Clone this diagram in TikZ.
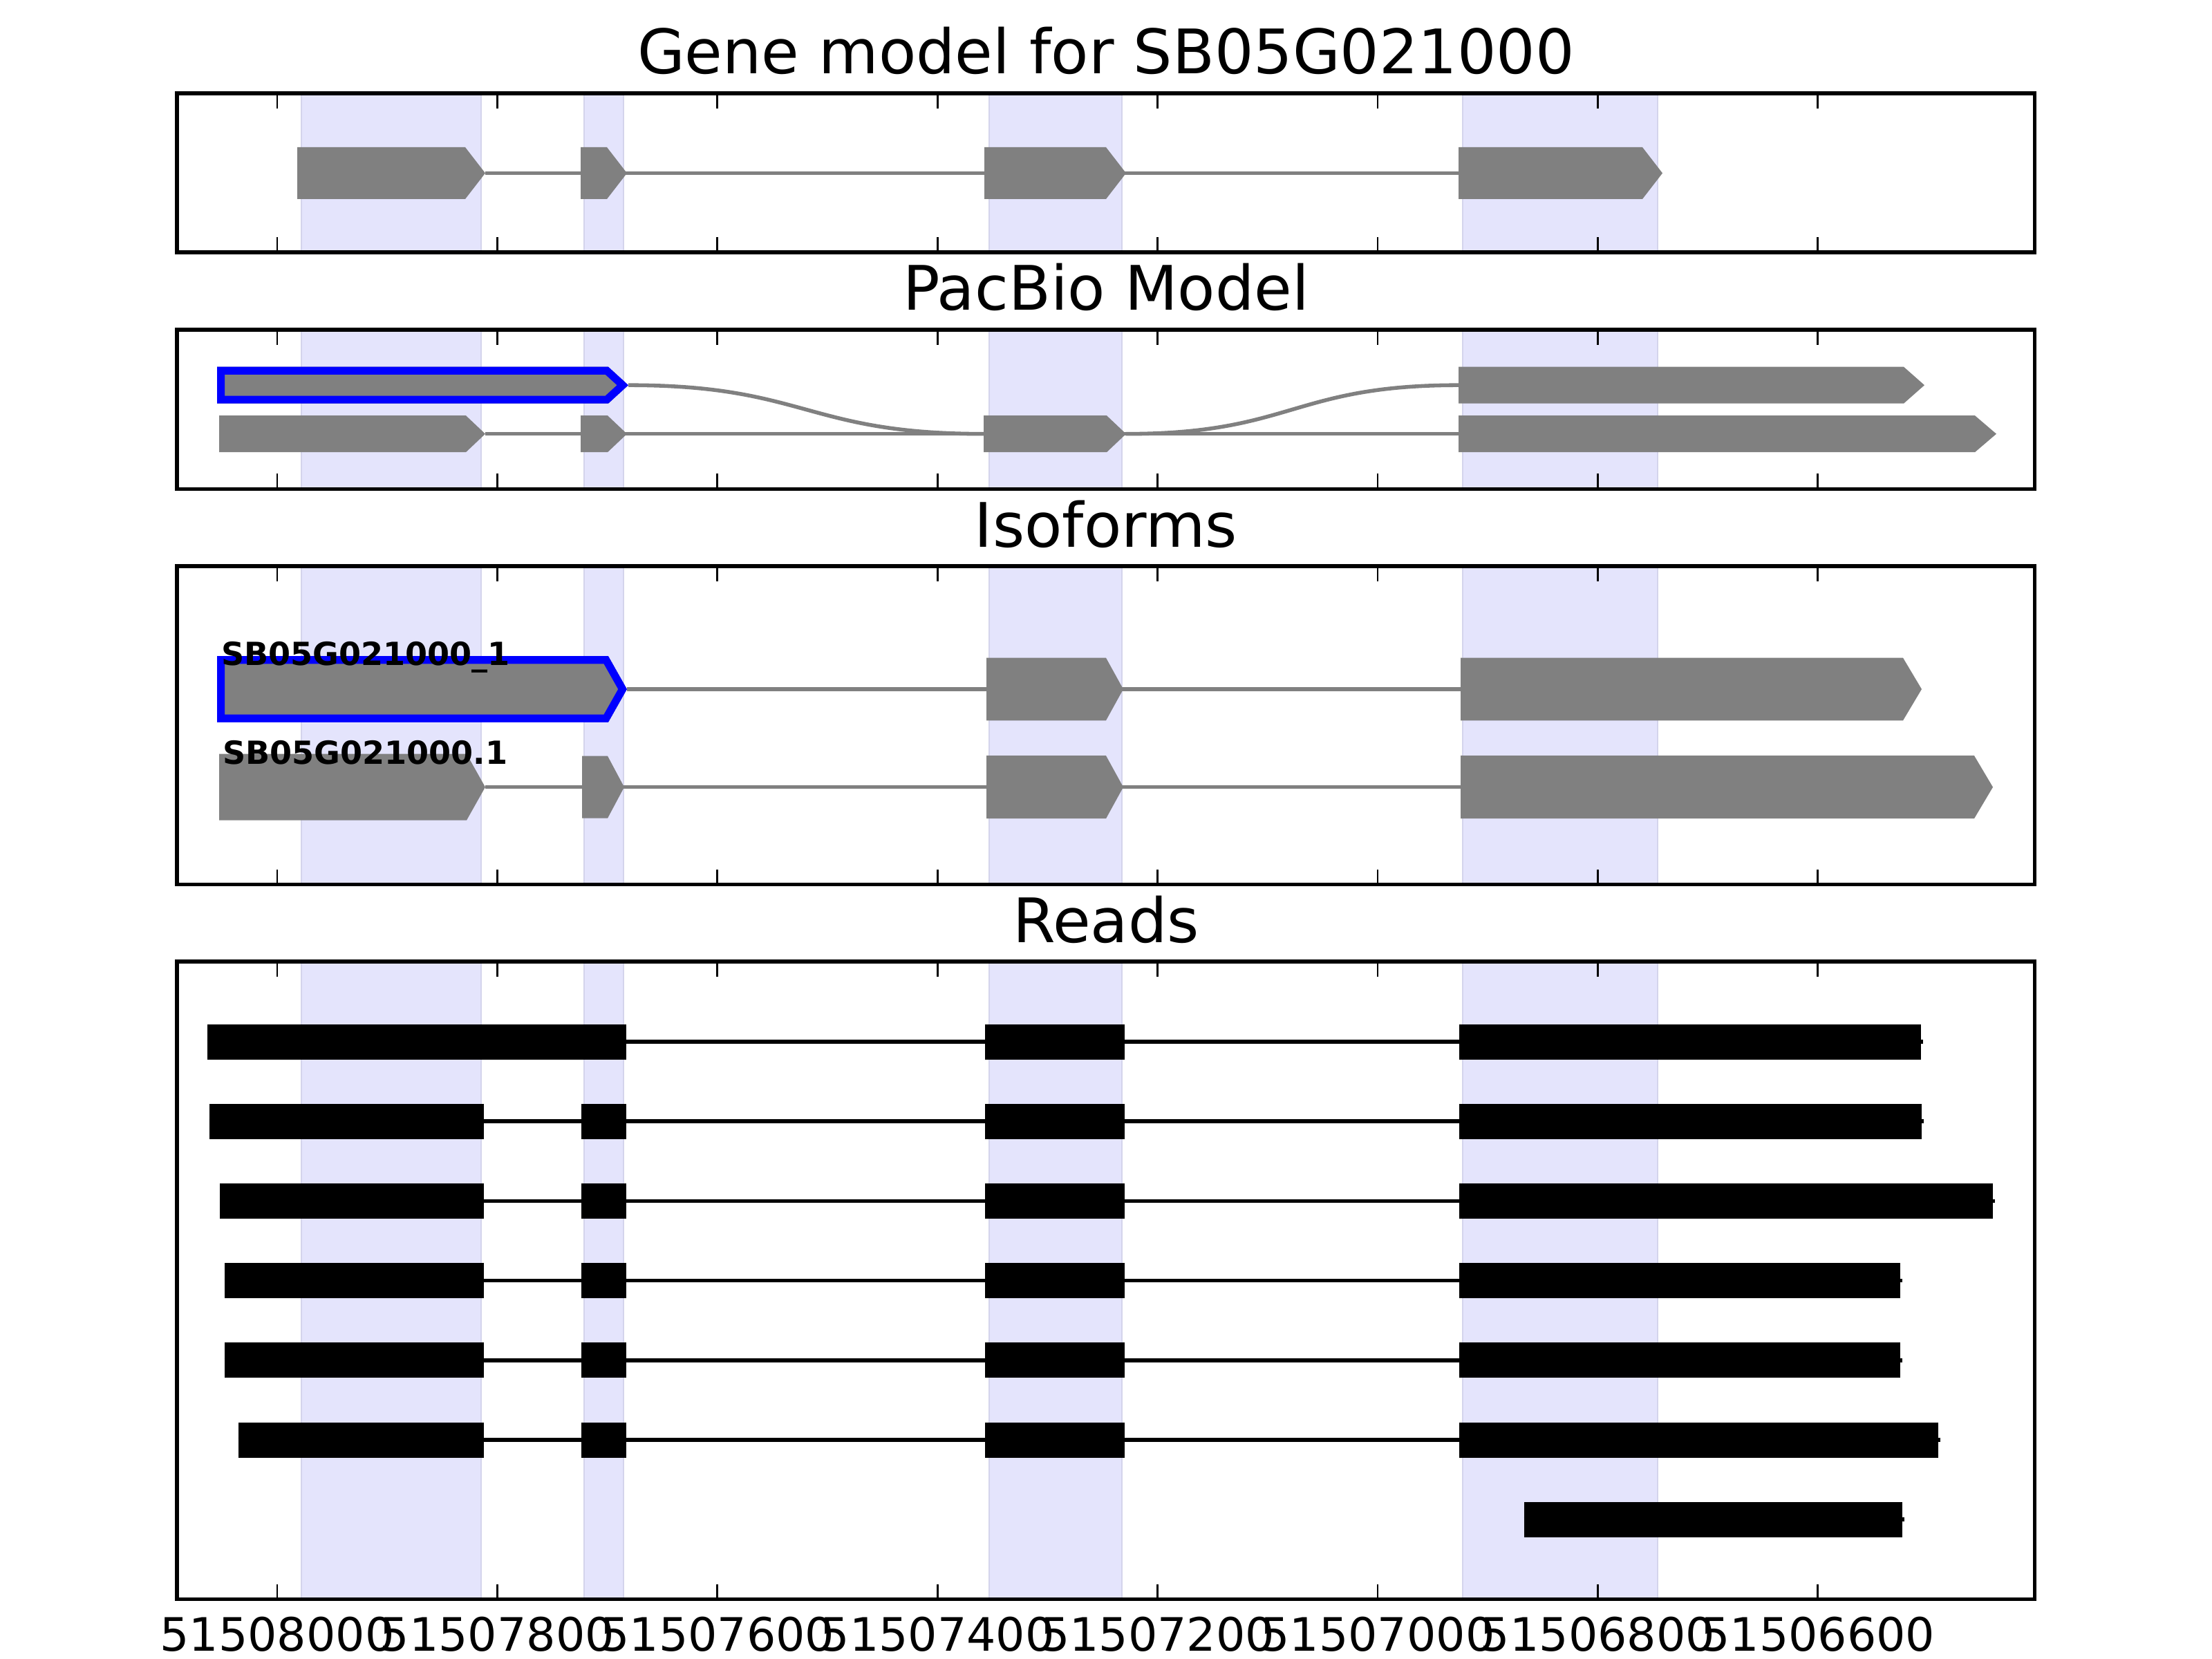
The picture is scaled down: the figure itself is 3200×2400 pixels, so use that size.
\documentclass[tikz,border=0pt]{standalone}
\usepackage{fontspec}
\setmainfont{DejaVu Sans}
\definecolor{bandfill}{RGB}{228,228,252}
\definecolor{bandedge}{RGB}{212,212,236}
\definecolor{exongray}{RGB}{128,128,128}
\tikzset{
  frame/.style={draw=black,line width=1bp},
  tickmark/.style={draw=black,line width=0.5bp},
  band/.style={fill=bandfill,draw=bandedge,line width=0.45bp},
  exon/.style={fill=exongray},
  intron/.style={draw=exongray,line width=1bp},
  readbar/.style={fill=black},
  readline/.style={draw=black,line width=1bp},
  titletext/.style={font=\fontsize{16bp}{19bp}\selectfont,anchor=base,inner sep=0pt},
  ticklabel/.style={font=\fontsize{12bp}{14bp}\selectfont,anchor=base,inner sep=0pt},
  isolabel/.style={font=\fontsize{8.3bp}{10bp}\selectfont\bfseries,anchor=base west,inner sep=0pt},
  selected/.style={draw=blue,line width=4bp,line join=miter}
}
% #1 left, #2 tip x, #3 centre y, #4 half height, #5 head length
\newcommand\Exon[5]{\fill[exon] (#1,#3-#4) -- (#2-#5,#3-#4) -- (#2,#3) -- (#2-#5,#3+#4) -- (#1,#3+#4) -- cycle;}
\newcommand\SelExon[5]{%
  \begin{scope}
    \clip (#1,#3-#4) -- (#2-#5,#3-#4) -- (#2,#3) -- (#2-#5,#3+#4) -- (#1,#3+#4) -- cycle;
    \fill[exon] (#1,#3-#4) -- (#2-#5,#3-#4) -- (#2,#3) -- (#2-#5,#3+#4) -- (#1,#3+#4) -- cycle;
    \draw[selected] (#1,#3-#4) -- (#2-#5,#3-#4) -- (#2,#3) -- (#2-#5,#3+#4) -- (#1,#3+#4) -- cycle;
  \end{scope}}
\newcommand\PanelBack[2]{%
  \foreach \a/\b in {436/696,845/902,1431/1623,2116/2398}
    {\path[band] (\a,#1) rectangle (\b,#2);}}
\newcommand\PanelFront[2]{%
  \foreach \x in {401,719.4,1037.8,1356.2,1674.6,1993,2311.4,2629.8}
    {\draw[tickmark] (\x,#1) -- (\x,#1+22); \draw[tickmark] (\x,#2) -- (\x,#2-22);}
  \draw[frame] (256,#1) rectangle (2943.5,#2);}
% #1 y, #2 start, #3 end, #4 blocks
\newcommand\Read[4]{%
  \draw[readline] (#2,#1) -- (#3+3,#1);
  \foreach \a/\b in {#4} {\fill[readbar] (\a,#1-25.5) rectangle (\b,#1+25.5);}}
\begin{document}
\begin{tikzpicture}[x=0.0025in,y=-0.0025in]
\useasboundingbox[fill=white] (0,0) rectangle (3200,2400);
% ---------- Panel 1: gene model
\PanelBack{135}{365}
\draw[intron] (702,250.5) -- (2110,250.5);
\Exon{430}{702}{250.5}{37.5}{29}
\Exon{840}{907}{250.5}{37.5}{29}
\Exon{1424}{1629}{250.5}{37.5}{29}
\Exon{2110}{2405}{250.5}{37.5}{29}
\PanelFront{135}{365}
\node[titletext] (title1) at (1600,107) {Gene model for SB05G021000};
% ---------- Panel 2: PacBio model
\PanelBack{477}{707.5}
\draw[intron] (702,627.7) -- (2110,627.7);
\draw[intron] (909,557.2) .. controls (1166,557.2) and (1166,627.7) .. (1423,627.7);
\draw[intron] (1629,627.7) .. controls (1869.5,627.7) and (1869.5,557.2) .. (2110,557.2);
\SelExon{314}{909}{557.2}{26.5}{29}
\Exon{2110}{2784}{557.2}{26.5}{30}
\Exon{317}{702}{627.7}{26.5}{28}
\Exon{840}{907}{627.7}{26.5}{28}
\Exon{1423}{1629}{627.7}{26.5}{28}
\Exon{2110}{2888}{627.7}{26.5}{31}
\PanelFront{477}{707.5}
\node[titletext] (title2) at (1600,449) {PacBio Model};
% ---------- Panel 3: isoforms
\PanelBack{819}{1279.5}
\draw[intron] (907,997) -- (2113,997);
\draw[intron] (702,1138.7) -- (2113,1138.7);
\SelExon{314}{907}{997}{47.8}{27}
\Exon{1427}{1625}{997}{45.3}{25}
\Exon{2113}{2780}{997}{45.3}{27}
\Exon{317}{702}{1138.7}{48}{27}
\Exon{842}{903}{1138.7}{45}{24}
\Exon{1427}{1625}{1138.7}{45.5}{25}
\Exon{2113}{2883}{1138.7}{45.5}{27}
\node[isolabel] (iso1) at (319,963) {SB05G021000\_1};
\node[isolabel] (iso2) at (321,1106) {SB05G021000.1};
\PanelFront{819}{1279.5}
\node[titletext] (title3) at (1600,791) {Isoforms};
% ---------- Panel 4: reads
\PanelBack{1391}{2313.5}
\Read{1507}{299.6}{2779}{299.6/906,1425/1627,2111/2779}
\Read{1622.2}{302.6}{2780}{302.6/699.5,841/906,1425/1627,2111/2780}
\Read{1737.4}{318.4}{2882.7}{318.4/699.5,841/906,1425/1627,2111/2882.7}
\Read{1852.6}{324.5}{2749}{324.5/699.5,841/906,1425/1627,2111/2749}
\Read{1967.8}{324.5}{2748.7}{324.5/699.5,841/906,1425/1627,2111/2748.7}
\Read{2083}{344.7}{2803.8}{344.7/699.5,841/906,1425/1627,2111/2803.8}
\Read{2198.2}{2204.6}{2752}{2204.6/2752}
\PanelFront{1391}{2313.5}
\node[titletext] (title4) at (1600,1363) {Reads};
% ---------- x tick labels
\foreach \x/\l [count=\i] in {401/51508000,719.4/51507800,1037.8/51507600,1356.2/51507400,1674.6/51507200,1993/51507000,2311.4/51506800,2629.8/51506600}
  {\node[ticklabel] (xl\i) at (\x,2388) {\l};}
\end{tikzpicture}
\end{document}
